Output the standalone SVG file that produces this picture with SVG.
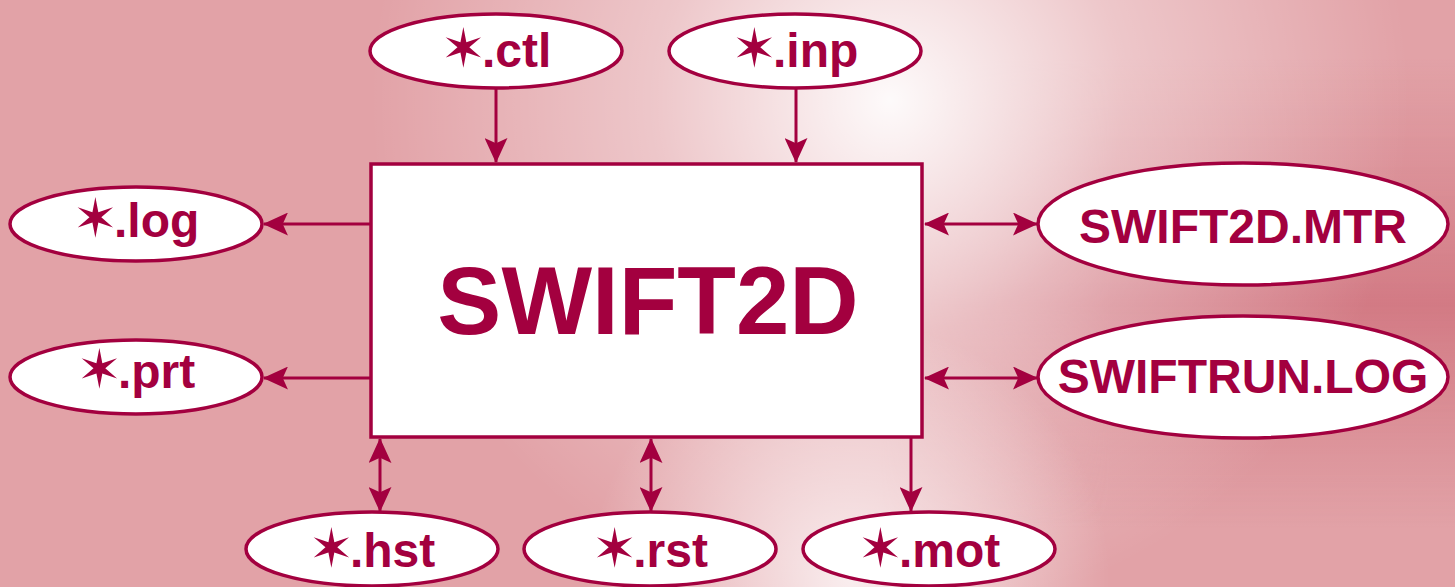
<svg xmlns="http://www.w3.org/2000/svg" width="1455" height="587" viewBox="0 0 1455 587">
<defs>
<style>
.nd{fill:#fff;stroke:#a3003f;stroke-width:3.5}
.t{font-family:"Liberation Sans",Arial,sans-serif;font-weight:bold;fill:#a3003f;text-anchor:middle}
.s{font-family:"DejaVu Sans",sans-serif;font-weight:normal;font-size:54px}
.c{stroke:#a3003f;stroke-width:3;fill:none}
</style>
<marker id="ah" viewBox="0 0 24 22" refX="23" refY="11" markerWidth="25" markerHeight="23" markerUnits="userSpaceOnUse" orient="auto-start-reverse">
<path d="M0,0 L24,11 L0,22 L5,11 Z" fill="#a3003f"/>
</marker>
<radialGradient id="g1" cx="890" cy="100" r="520" gradientUnits="userSpaceOnUse">
<stop offset="0" stop-color="#fff" stop-opacity="0.95"/>
<stop offset="0.45" stop-color="#fff" stop-opacity="0.4"/>
<stop offset="1" stop-color="#fff" stop-opacity="0"/>
</radialGradient>
<radialGradient id="g2" cx="850" cy="580" r="260" gradientUnits="userSpaceOnUse">
<stop offset="0" stop-color="#fff" stop-opacity="0.8"/>
<stop offset="1" stop-color="#fff" stop-opacity="0"/>
</radialGradient>
<linearGradient id="g3" x1="0" y1="0" x2="0" y2="587" gradientUnits="userSpaceOnUse">
<stop offset="0.1" stop-color="#d47f88" stop-opacity="0"/>
<stop offset="0.52" stop-color="#d27a84" stop-opacity="1"/>
<stop offset="0.9" stop-color="#d47f88" stop-opacity="0"/>
</linearGradient>
<linearGradient id="g4" x1="880" y1="0" x2="1455" y2="0" gradientUnits="userSpaceOnUse">
<stop offset="0" stop-color="#fff" stop-opacity="0"/>
<stop offset="0.4" stop-color="#fff" stop-opacity="1"/>
<stop offset="1" stop-color="#fff" stop-opacity="1"/>
</linearGradient>
<mask id="m4"><rect x="0" y="0" width="1455" height="587" fill="url(#g4)"/></mask>
</defs>
<rect x="0" y="0" width="1455" height="587" fill="#e2a2a7"/>
<rect x="0" y="0" width="1455" height="587" fill="url(#g3)" mask="url(#m4)"/>
<rect x="0" y="0" width="1455" height="587" fill="url(#g1)"/>
<rect x="0" y="0" width="1455" height="587" fill="url(#g2)"/>

<g id="connectors">
<line class="c" x1="496" y1="89" x2="496" y2="162" marker-end="url(#ah)"/>
<line class="c" x1="796" y1="89" x2="796" y2="162" marker-end="url(#ah)"/>
<line class="c" x1="370" y1="224" x2="264" y2="224" marker-end="url(#ah)"/>
<line class="c" x1="370" y1="378" x2="264" y2="378" marker-end="url(#ah)"/>
<line class="c" x1="925" y1="224" x2="1037" y2="224" marker-start="url(#ah)" marker-end="url(#ah)"/>
<line class="c" x1="925" y1="378" x2="1037" y2="378" marker-start="url(#ah)" marker-end="url(#ah)"/>
<line class="c" x1="380" y1="439" x2="380" y2="511" marker-start="url(#ah)" marker-end="url(#ah)"/>
<line class="c" x1="651" y1="439" x2="651" y2="511" marker-start="url(#ah)" marker-end="url(#ah)"/>
<line class="c" x1="911" y1="437" x2="911" y2="511" marker-end="url(#ah)"/>
</g>

<g id="main">
<rect class="nd" x="371" y="164" width="551" height="273"/>
<text class="t" x="648" y="334" font-size="96">SWIFT2D</text>
</g>
<g id="ctl">
<ellipse class="nd" cx="496" cy="51" rx="126" ry="37"/>
<text class="t" x="496" y="67" font-size="48"><tspan class="s">✶</tspan><tspan dx="-4">.ctl</tspan></text>
</g>
<g id="inp">
<ellipse class="nd" cx="795" cy="51" rx="126" ry="37"/>
<text class="t" x="795" y="67" font-size="48"><tspan class="s">✶</tspan><tspan dx="-4">.inp</tspan></text>
</g>
<g id="log">
<ellipse class="nd" cx="136" cy="224" rx="126" ry="37"/>
<text class="t" x="136" y="237" font-size="48"><tspan class="s">✶</tspan><tspan dx="-4">.log</tspan></text>
</g>
<g id="prt">
<ellipse class="nd" cx="136" cy="377" rx="126" ry="37"/>
<text class="t" x="136" y="388" font-size="48"><tspan class="s">✶</tspan><tspan dx="-4">.prt</tspan></text>
</g>
<g id="mtr">
<ellipse class="nd" cx="1243" cy="224" rx="205" ry="61"/>
<text class="t" x="1243" y="243" font-size="48">SWIFT2D.MTR</text>
</g>
<g id="runlog">
<ellipse class="nd" cx="1243" cy="377" rx="205" ry="61"/>
<text class="t" x="1243" y="393" font-size="48">SWIFTRUN.LOG</text>
</g>
<g id="hst">
<ellipse class="nd" cx="372" cy="549" rx="126" ry="37"/>
<text class="t" x="372" y="567" font-size="48"><tspan class="s">✶</tspan><tspan dx="-4">.hst</tspan></text>
</g>
<g id="rst">
<ellipse class="nd" cx="650" cy="549" rx="126" ry="37"/>
<text class="t" x="650" y="567" font-size="48"><tspan class="s">✶</tspan><tspan dx="-4">.rst</tspan></text>
</g>
<g id="mot">
<ellipse class="nd" cx="929" cy="549" rx="126" ry="37"/>
<text class="t" x="929" y="567" font-size="48"><tspan class="s">✶</tspan><tspan dx="-4">.mot</tspan></text>
</g>
</svg>
